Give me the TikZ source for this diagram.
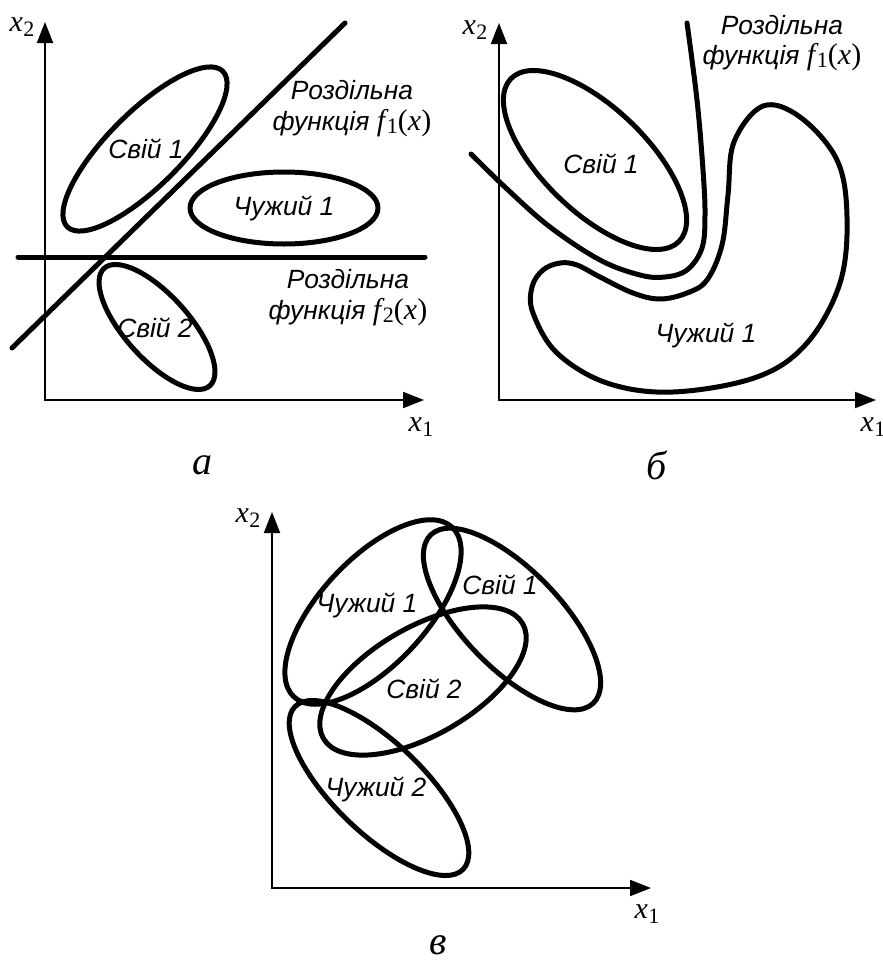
\documentclass[tikz,border=0pt]{standalone}
\usepackage{fontspec}
\setmainfont{Liberation Serif}
\setsansfont{Liberation Sans}
\usetikzlibrary{arrows.meta}
\newcommand\fnx[1]{{\rmfamily\upshape\fontsize{15}{17}\selectfont\textit{f}\kern-0.8pt\raisebox{-0.25ex}{\fontsize{11}{11}\selectfont #1}(\textit{x})}}
\newcommand\axl[1]{{\rmfamily\fontsize{15}{17}\selectfont\textit{x}\kern0.3pt\raisebox{-0.35ex}{\fontsize{11}{11}\selectfont #1}}}
\tikzset{
  thk/.style={line width=2.5pt, line cap=round, line join=round},
  axis/.style={line width=1pt, {Triangle[length=10.5pt,width=8pt]}-{Triangle[length=10.5pt,width=8pt]}},
  lbl/.style={font=\sffamily\itshape\fontsize{13.2}{15}\selectfont, inner sep=0pt},
  axlab/.style={inner sep=0pt},
  panel/.style={font=\rmfamily\itshape\fontsize{20}{22}\selectfont, inner sep=0pt}
}
\begin{document}
\begin{tikzpicture}[x=0.5pt,y=-0.5pt]
\useasboundingbox (0,0) rectangle (883,964);
% ---------- panel a ----------
\coordinate (aO) at (45,400);
\coordinate (aY) at (45,22);
\coordinate (aX) at (424,400);
\draw[axis] (aY) -- (aO) -- (aX);
\node[axlab] (ax2) at (22,27) {\axl{2}};
\node[axlab] (ax1) at (421,427) {\axl{1}};
\coordinate (aL1s) at (12,348);
\coordinate (aL1e) at (345,23);
\draw[thk] (aL1s) -- (aL1e);
\coordinate (aL2s) at (18,257);
\coordinate (aL2e) at (425,257);
\draw[thk] (aL2s) -- (aL2e);
\coordinate (aE1) at (145,149);
\draw[thk, rotate around={45:(aE1)}] (aE1) ellipse [x radius=110, y radius=37];
\coordinate (aE2) at (284,208);
\draw[thk] (aE2) ellipse [x radius=94, y radius=36];
\coordinate (aE3) at (157,327);
\draw[thk, rotate around={-48:(aE3)}] (aE3) ellipse [x radius=79, y radius=32];
\node[lbl] (aT1) at (146,149) {Свій 1};
\node[lbl] (aT2) at (284,208) {Чужий 1};
\node[lbl] (aT3) at (155,328) {Свій 2};
\node[lbl] (aF1a) at (352,90) {Роздільна};
\node[lbl] (aF1b) at (352,123) {функція \fnx{1}};
\node[lbl] (aF2a) at (348,279) {Роздільна};
\node[lbl] (aF2b) at (348,312) {функція \fnx{2}};
\node[panel] (pa) at (202,465) {а};
% ---------- panel b ----------
\coordinate (bO) at (499,400);
\coordinate (bY) at (499,23);
\coordinate (bX) at (876,400);
\draw[axis] (bY) -- (bO) -- (bX);
\node[axlab] (bx2) at (475,30) {\axl{2}};
\node[axlab] (bx1) at (873,427) {\axl{1}};
\draw[thk] plot[smooth, tension=0.6] coordinates {(687,23) (697,100) (703,170) (705,215) (702,248) (687,270) (665,277) (640,275) (600,260) (550,227) (507,189) (471,154)};
\coordinate (bE1) at (595,160);
\draw[thk, rotate around={-44:(bE1)}] (bE1) ellipse [x radius=117, y radius=52];
\draw[thk] plot[smooth cycle, tension=0.6] coordinates {(763,106) (800,117) (837,160) (847,217) (840,283) (807,343) (757,377) (673,392) (607,383) (557,353) (533,313) (532,287) (543,270) (560,263) (577,265) (600,277) (633,293) (660,299) (687,293) (707,280) (722,245) (728,195) (734,142)};
\node[lbl] (bT1) at (601,164) {Свій 1};
\node[lbl] (bT2) at (706,335) {Чужий 1};
\node[lbl] (bF1a) at (782,25) {Роздільна};
\node[lbl] (bF1b) at (782,57) {функція \fnx{1}};
\node[panel] (pb) at (657,465) {б};
% ---------- panel c ----------
\coordinate (cO) at (272,888);
\coordinate (cY) at (272,512);
\coordinate (cX) at (651,888);
\draw[axis] (cY) -- (cO) -- (cX);
\node[axlab] (cx2) at (248,518) {\axl{2}};
\node[axlab] (cx1) at (647,914) {\axl{1}};
\coordinate (cE1) at (373,612);
\draw[thk, rotate around={47:(cE1)}] (cE1) ellipse [x radius=116, y radius=53];
\coordinate (cE2) at (512,619);
\draw[thk, rotate around={-46:(cE2)}] (cE2) ellipse [x radius=117, y radius=49];
\coordinate (cE3) at (423,681);
\draw[thk, rotate around={30:(cE3)}] (cE3) ellipse [x radius=115, y radius=54];
\coordinate (cE4) at (379,788);
\draw[thk, rotate around={-44:(cE4)}] (cE4) ellipse [x radius=117, y radius=45];
\node[lbl] (cT1) at (367,605) {Чужий 1};
\node[lbl] (cT2) at (500,585) {Свій 1};
\node[lbl] (cT3) at (424,689) {Свій 2};
\node[lbl] (cT4) at (376,789) {Чужий 2};
\node[panel] (pc) at (438,945) {в};
\end{tikzpicture}
\end{document}
